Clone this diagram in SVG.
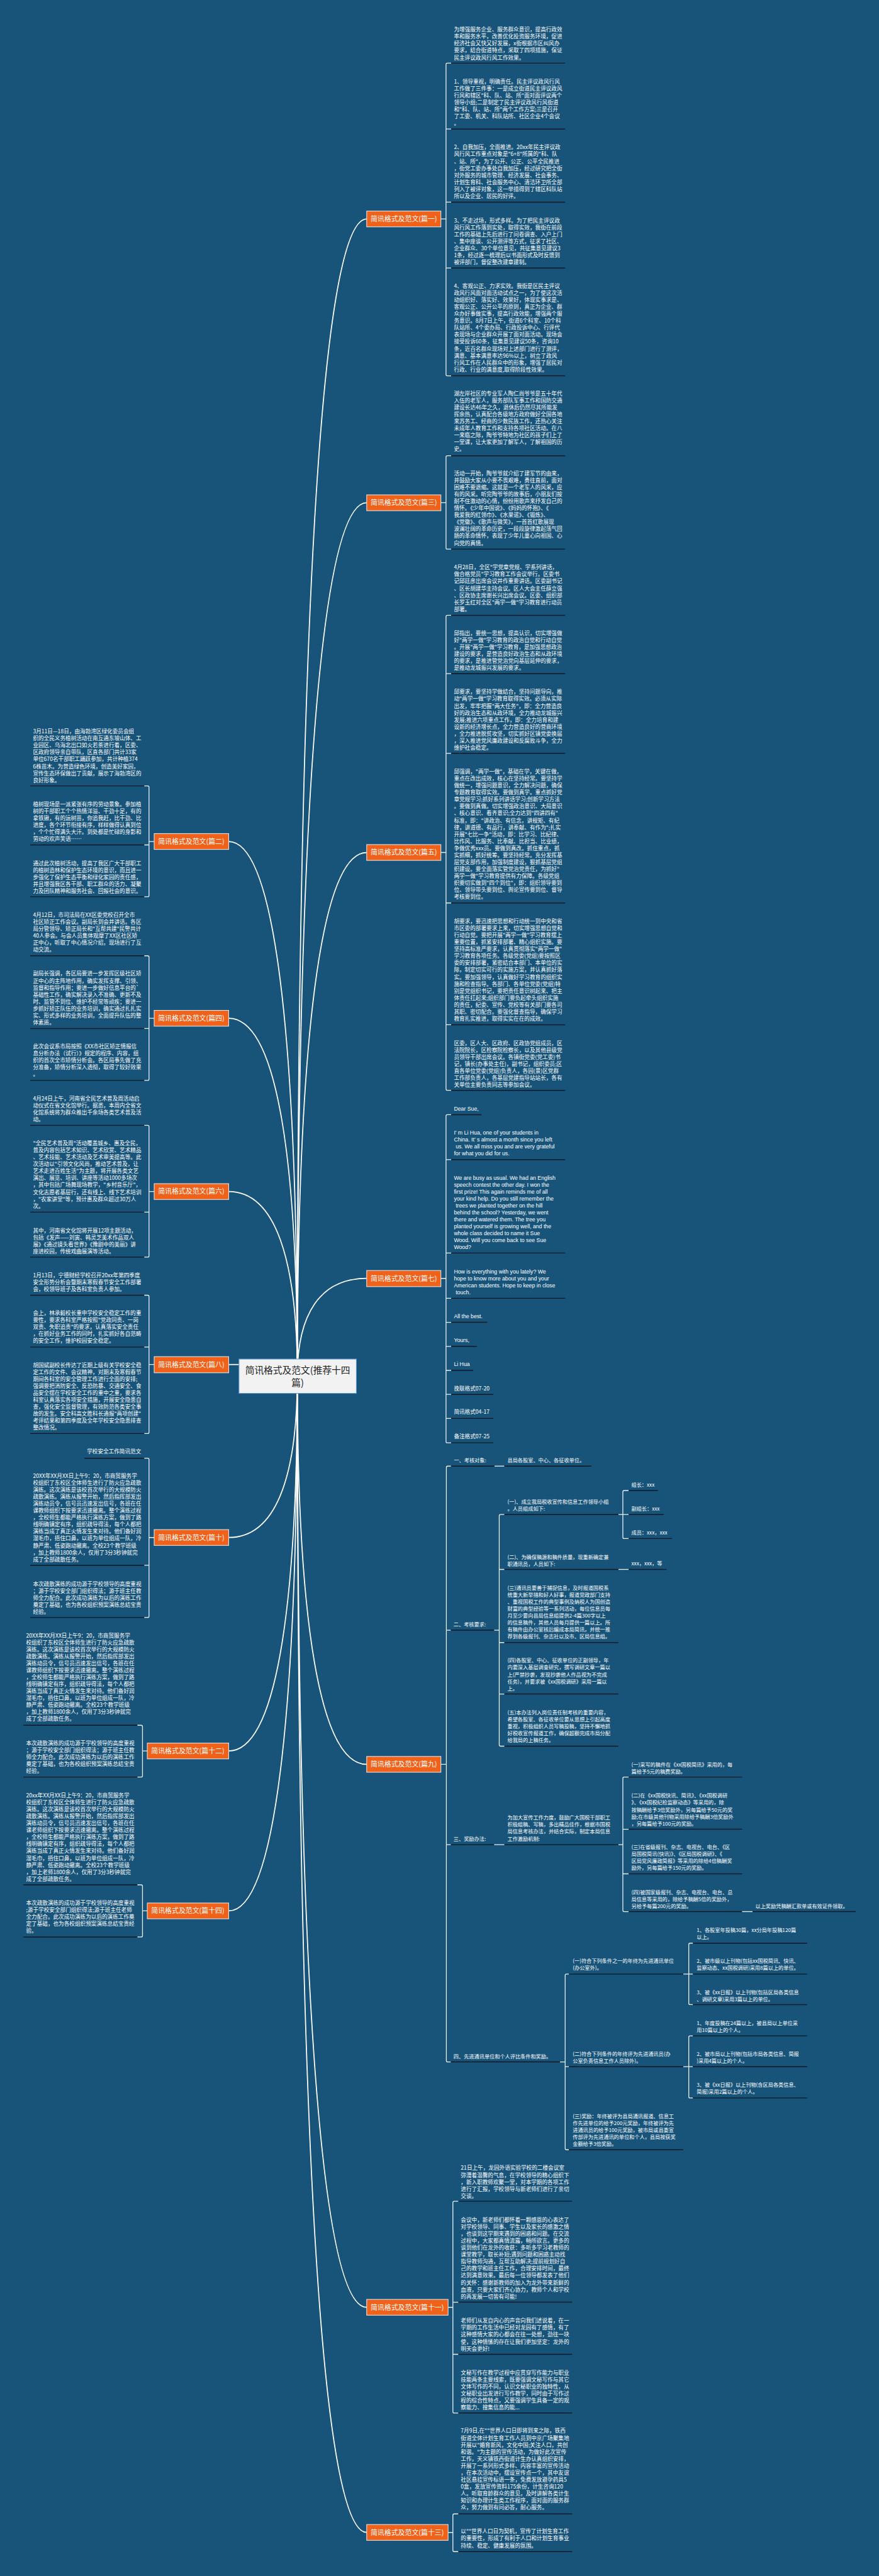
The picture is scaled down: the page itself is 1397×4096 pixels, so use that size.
<svg xmlns="http://www.w3.org/2000/svg" width="1397" height="4096" viewBox="0 0 1397 4096">
<style>
.t{font-family:"Noto Sans CJK SC","Noto Sans",sans-serif;font-size:15.8px;fill:#fff}
.s{font-size:15px}
.e{font-family:"Liberation Sans",Arial,sans-serif;font-size:16px;fill:#fff}
.ul{stroke:#0c1924;stroke-width:2.6;fill:none}
.br{stroke:#e9eef2;stroke-width:2.4;fill:none}
.cn{stroke:#fff;stroke-width:3.2;fill:none}
.lb{fill:#f0611a;stroke:#e4e4e4;stroke-width:2}
.lt{font-family:"Noto Sans CJK SC",sans-serif;font-size:20px;fill:#fff;text-anchor:middle}
.ct{font-family:"Noto Sans CJK SC",sans-serif;font-size:27px;fill:#222;text-anchor:middle}
</style>
<rect width="1397" height="4096" fill="#185479"/>
<g transform="scale(0.5457)">
<g id="connectors">
<path class="cn" d="M1068,638C933,638 866,1852 866,4010"/>
<path class="cn" d="M1068,1465C933,1465 866,2381 866,4010"/>
<path class="cn" d="M1068,2484C933,2484 866,3033 866,4010"/>
<path class="cn" d="M1068,3725C933,3725 866,3828 866,4010"/>
<path class="cn" d="M1068,5141C933,5141 866,4734 866,4010"/>
<path class="cn" d="M1068,6723C933,6723 866,5746 866,4010"/>
<path class="cn" d="M1068,7379C933,7379 866,6166 866,4010"/>
<path class="cn" d="M666,2452C800,2452 866,3013 866,4010"/>
<path class="cn" d="M666,2967C800,2967 866,3342 866,4010"/>
<path class="cn" d="M666,3472C800,3472 866,3666 866,4010"/>
<path class="cn" d="M666,3976H700"/>
<path class="cn" d="M666,4480C800,4480 866,4311 866,4010"/>
<path class="cn" d="M666,5102C800,5102 866,4709 866,4010"/>
<path class="cn" d="M666,5568C800,5568 866,5007 866,4010"/>
<path class="br" d="M1314,184H1303Q1299,184 1299,188V1091Q1299,1095 1303,1095H1314M1299,376H1314M1299,589H1314M1299,781H1314M1284,638H1299"/>
<path class="br" d="M1314,1328H1303Q1299,1328 1299,1332V1596Q1299,1600 1303,1600H1314M1284,1465H1299"/>
<path class="br" d="M1314,1793H1303Q1299,1793 1299,1797V3173Q1299,3177 1303,3177H1314M1299,1963H1314M1299,2195H1314M1299,2631H1314M1299,2986H1314M1284,2484H1299"/>
<path class="br" d="M1314,3248H1303Q1299,3248 1299,3252V4200Q1299,4204 1303,4204H1314M1299,3379H1314M1299,3651H1314M1299,3783H1314M1299,3853H1314M1299,3923H1314M1299,3993H1314M1299,4063H1314M1299,4133H1314M1284,3725H1299"/>
<path class="br" d="M1313,4272H1304Q1300,4272 1300,4276V6004Q1300,6008 1304,6008H1313M1300,4750H1313M1300,5375H1313M1284,5141H1300"/>
<path class="br" d="M1440,4272H1469"/>
<path class="br" d="M1439,4750H1454M1469,4413H1458Q1454,4413 1454,4417V5084Q1454,5088 1458,5088H1469M1454,4573H1469M1454,4786H1469M1454,4936H1469"/>
<path class="br" d="M1801,4413H1814M1831,4343H1818Q1814,4343 1814,4347V4479Q1814,4483 1818,4483H1831M1814,4413H1831"/>
<path class="br" d="M1801,4573H1831"/>
<path class="br" d="M1439,5375H1469M1801,5375H1814M1831,5178H1818Q1814,5178 1814,5182V5566Q1814,5570 1818,5570H1831M1814,5330H1831M1814,5460H1831"/>
<path class="br" d="M2161,5570H2192"/>
<path class="br" d="M1631,6008H1646M1657,5752H1650Q1646,5752 1646,5756V6260Q1646,6264 1650,6264H1657M1646,6022H1657"/>
<path class="br" d="M1990,5752H2006M2018,5662H2010Q2006,5662 2006,5666V5837Q2006,5841 2010,5841H2018M2006,5752H2018"/>
<path class="br" d="M1990,6022H2006M2018,5932H2010Q2006,5932 2006,5936V6109Q2006,6113 2010,6113H2018M2006,6022H2018"/>
<path class="br" d="M1335,6414H1323Q1319,6414 1319,6418V7027Q1319,7031 1323,7031H1335M1319,6708H1335M1319,6860H1335M1305,6723H1319"/>
<path class="br" d="M1335,7325H1323Q1319,7325 1319,7329V7431Q1319,7435 1323,7435H1335M1305,7379H1319"/>
<path class="br" d="M420,2290H430Q434,2290 434,2294V2609Q434,2613 430,2613H420M434,2462H420M449,2452H434"/>
<path class="br" d="M420,2785H430Q434,2785 434,2789V3144Q434,3148 430,3148H420M434,2997H420M449,2967H434"/>
<path class="br" d="M420,3279H430Q434,3279 434,3283V3659Q434,3663 430,3663H420M434,3532H420M449,3472H434"/>
<path class="br" d="M420,3774H430Q434,3774 434,3778V4173Q434,4177 430,4177H420M434,3925H420M449,3976H434"/>
<path class="br" d="M420,4249H430Q434,4249 434,4253V4709Q434,4713 430,4713H420M434,4561H420M449,4480H434"/>
<path class="br" d="M400,5027H411Q415,5027 415,5031V5174Q415,5178 411,5178H400M429,5102H415"/>
<path class="br" d="M400,5492H411Q415,5492 415,5496V5640Q415,5644 411,5644H400M429,5568H415"/>
</g>

<g id="center">
<rect x="696" y="3960" width="342" height="100" fill="#f2f2f2" stroke="#5b93d3" stroke-width="2"/>
<text class="ct" x="867" y="4002">简讯格式及范文(推荐十四</text>
<text class="ct" x="867" y="4038">篇)</text>
</g>

<g id="labels">
<rect class="lb" x="1068" y="3702" width="216" height="47"/><text class="lt" x="1176" y="3732">简讯格式及范文(篇七)</text>
<rect class="lb" x="1068" y="615" width="216" height="46"/><text class="lt" x="1176" y="645">简讯格式及范文(篇一)</text>
<rect class="lb" x="1068" y="1442" width="216" height="46"/><text class="lt" x="1176" y="1472">简讯格式及范文(篇三)</text>
<rect class="lb" x="1068" y="2461" width="216" height="46"/><text class="lt" x="1176" y="2491">简讯格式及范文(篇五)</text>
<rect class="lb" x="1068" y="5118" width="216" height="46"/><text class="lt" x="1176" y="5148">简讯格式及范文(篇九)</text>
<rect class="lb" x="1068" y="6700" width="237" height="46"/><text class="lt" x="1186" y="6730">简讯格式及范文(篇十一)</text>
<rect class="lb" x="1068" y="7356" width="237" height="46"/><text class="lt" x="1186" y="7386">简讯格式及范文(篇十三)</text>
<rect class="lb" x="449" y="2429" width="217" height="46"/><text class="lt" x="557" y="2459">简讯格式及范文(篇二)</text>
<rect class="lb" x="449" y="2944" width="217" height="46"/><text class="lt" x="557" y="2974">简讯格式及范文(篇四)</text>
<rect class="lb" x="449" y="3449" width="217" height="46"/><text class="lt" x="557" y="3479">简讯格式及范文(篇六)</text>
<rect class="lb" x="449" y="3953" width="217" height="47"/><text class="lt" x="557" y="3983">简讯格式及范文(篇八)</text>
<rect class="lb" x="449" y="4457" width="217" height="46"/><text class="lt" x="557" y="4487">简讯格式及范文(篇十)</text>
<rect class="lb" x="429" y="5079" width="237" height="46"/><text class="lt" x="547" y="5109">简讯格式及范文(篇十二)</text>
<rect class="lb" x="429" y="5545" width="237" height="46"/><text class="lt" x="547" y="5575">简讯格式及范文(篇十四)</text>
</g>

<g id="p1">
<text class="t" x="1322" y="92"><tspan x="1322">为增强服务企业、服务群众意识，提高行政效</tspan><tspan x="1322" dy="20.3">率和服务水平，改善优化投资服务环境，促进</tspan><tspan x="1322" dy="20.3">经济社会又快又好发展，x街根据市区纠风办</tspan><tspan x="1322" dy="20.3">要求，结合街道特点，采取了四项措施，保证</tspan><tspan x="1322" dy="20.3">民主评议政风行风工作效果。</tspan></text>
<path class="ul" d="M1314,184H1646"/>
<text class="t" x="1322" y="243"><tspan x="1322">1、领导重视，明确责任。民主评议政风行风</tspan><tspan x="1322" dy="20.3">工作做了三件事：一是成立街道民主评议政风</tspan><tspan x="1322" dy="20.3">行风和辖区"科、队、站、所"面对面评议两个</tspan><tspan x="1322" dy="20.3">领导小组;二是制定了民主评议政风行风街道</tspan><tspan x="1322" dy="20.3">和"科、队、站、所"两个工作方案;三是召开</tspan><tspan x="1322" dy="20.3">了工委、机关、科队站所、社区企业4个会议</tspan><tspan x="1322" dy="20.3">。</tspan></text>
<path class="ul" d="M1314,376H1646"/>
<text class="t" x="1322" y="435"><tspan x="1322">2、自我加压，全面推进。20xx年民主评议政</tspan><tspan x="1322" dy="20.3">风行风工作重点对象是"6+8"所属的"科、队</tspan><tspan x="1322" dy="20.3">、站、所"，为了公开、公正、公平全民推进</tspan><tspan x="1322" dy="20.3">，街党工委办事处自我加压，经过研究把全街</tspan><tspan x="1322" dy="20.3">对外服务的城市管理、经济发展、社会事务、</tspan><tspan x="1322" dy="20.3">计划生育科、社会服务中心、清洁环卫所全部</tspan><tspan x="1322" dy="20.3">列入了被评对象，这一举措得到了辖区科队站</tspan><tspan x="1322" dy="20.3">所以及企业、居民的好评。</tspan></text>
<path class="ul" d="M1314,589H1646"/>
<text class="t" x="1322" y="648"><tspan x="1322">3、不走过场，形式多样。为了把民主评议政</tspan><tspan x="1322" dy="20.3">风行风工作落到实处，取得实效，我街在前段</tspan><tspan x="1322" dy="20.3">工作的基础上先后进行了问卷调查、入户上门</tspan><tspan x="1322" dy="20.3">、集中座谈、公开测评等方式，征求了社区、</tspan><tspan x="1322" dy="20.3">企业群众、30个单位意见，共征集意见建议3</tspan><tspan x="1322" dy="20.3">1条，经过逐一梳理后以书面形式及时反馈到</tspan><tspan x="1322" dy="20.3">被评部门，督促整改建章建制。</tspan></text>
<path class="ul" d="M1314,781H1646"/>
<text class="t" x="1322" y="839"><tspan x="1322">4、客观公正、力求实效。我街是区民主评议</tspan><tspan x="1322" dy="20.3">政风行风面对面活动试点之一，为了使这次活</tspan><tspan x="1322" dy="20.3">动组织好、落实好、效果好，体现实事求是、</tspan><tspan x="1322" dy="20.3">客观公正、公开公平的原则，真正为企业、群</tspan><tspan x="1322" dy="20.3">众办好事做实事，提高行政效能，增强两个服</tspan><tspan x="1322" dy="20.3">务意识。8月7日上午，街道6个科室、10个科</tspan><tspan x="1322" dy="20.3">队站所、4个委办局、行政投诉中心、行评代</tspan><tspan x="1322" dy="20.3">表现场与企业群众开展了面对面活动。现场会</tspan><tspan x="1322" dy="20.3">接受投诉60条，征集意见建议50条，咨询10</tspan><tspan x="1322" dy="20.3">条，近百名群众现场对上述部门进行了测评，</tspan><tspan x="1322" dy="20.3">满意、基本满意率达96%以上，树立了政风</tspan><tspan x="1322" dy="20.3">行风工作在人民群众中的形象，增强了居民对</tspan><tspan x="1322" dy="20.3">行政、行业的满意度,取得阶段性效果。</tspan></text>
<path class="ul" d="M1314,1095H1646"/>
</g>

<g id="p3">
<text class="t" x="1322" y="1152"><tspan x="1322">湖左岸社区的专业军人陶仁尚爷爷是五十年代</tspan><tspan x="1322" dy="20.3">入伍的老军人，服务部队军事工作和国防交通</tspan><tspan x="1322" dy="20.3">建设长达46年之久，退休后仍然尽其所能发</tspan><tspan x="1322" dy="20.3">挥余热，认真配合各级地方政府做好全国各地</tspan><tspan x="1322" dy="20.3">来苏务工、经商的少数民族工作，还热心关注</tspan><tspan x="1322" dy="20.3">未成年人教育工作和支持各项社区活动。在八</tspan><tspan x="1322" dy="20.3">一来临之际，陶爷爷特地为社区的孩子们上了</tspan><tspan x="1322" dy="20.3">一堂课，让大家更加了解军人，了解祖国的历</tspan><tspan x="1322" dy="20.3">史。</tspan></text>
<path class="ul" d="M1314,1328H1646"/>
<text class="t" x="1322" y="1385"><tspan x="1322">活动一开始，陶爷爷就介绍了建军节的由来，</tspan><tspan x="1322" dy="20.3">并鼓励大家从小要不畏艰难，勇往直前，面对</tspan><tspan x="1322" dy="20.3">困难不要退缩。这就是一个老军人的风采，应</tspan><tspan x="1322" dy="20.3">有的风采。听完陶爷爷的故事后，小朋友们按</tspan><tspan x="1322" dy="20.3">耐不住激动的心情，纷纷用歌声来抒发自己的</tspan><tspan x="1322" dy="20.3">情怀。《少年中国说》、《妈妈的怀抱》、《</tspan><tspan x="1322" dy="20.3">我爱我的红领巾》、《水果谣》、《锻炼》、</tspan><tspan x="1322" dy="20.3">《党徽》、《歌声与微笑》，一首首红歌展现</tspan><tspan x="1322" dy="20.3">波澜壮阔的革命历史，一段段旋律激起荡气回</tspan><tspan x="1322" dy="20.3">肠的革命情怀，表现了少年儿童心向祖国、心</tspan><tspan x="1322" dy="20.3">向党的真情。</tspan></text>
<path class="ul" d="M1314,1600H1646"/>
</g>

<g id="p5">
<text class="t" x="1322" y="1659"><tspan x="1322">4月28日，全区"学党章党规、学系列讲话，</tspan><tspan x="1322" dy="20.3">做合格党员"学习教育工作会议举行。区委书</tspan><tspan x="1322" dy="20.3">记邱廷彦出席会议并作重要讲话。区委副书记</tspan><tspan x="1322" dy="20.3">、区长胡建华主持会议。区人大会主任薛立强</tspan><tspan x="1322" dy="20.3">、区政协主席谢长兴出席会议。区委、组织部</tspan><tspan x="1322" dy="20.3">长罗玉红对全区"两学一做"学习教育进行动员</tspan><tspan x="1322" dy="20.3">部署。</tspan></text>
<path class="ul" d="M1314,1793H1646"/>
<text class="t" x="1322" y="1850"><tspan x="1322">邱指出，要统一思想，提高认识，切实增强做</tspan><tspan x="1322" dy="20.3">好"两学一做"学习教育的政治自觉和行动自觉</tspan><tspan x="1322" dy="20.3">。开展"两学一做"学习教育，是加强思想政治</tspan><tspan x="1322" dy="20.3">建设的要求，是营造良好政治生态和从政环境</tspan><tspan x="1322" dy="20.3">的要求，是推进管党治党向基层延伸的要求，</tspan><tspan x="1322" dy="20.3">是推动龙城振兴发展的要求。</tspan></text>
<path class="ul" d="M1314,1963H1646"/>
<text class="t" x="1322" y="2022"><tspan x="1322">邱要求，要坚持学做结合，坚持问题导向，推</tspan><tspan x="1322" dy="20.3">动"两学一做"学习教育取得实效。必须从实际</tspan><tspan x="1322" dy="20.3">出发，牢牢把握"两大任务"，即：全力营造良</tspan><tspan x="1322" dy="20.3">好的政治生态和从政环境，全力推动龙城振兴</tspan><tspan x="1322" dy="20.3">发展;推进六项重点工作，即：全力培育和建</tspan><tspan x="1322" dy="20.3">设新的经济增长点，全力营造良好的营商环境</tspan><tspan x="1322" dy="20.3">，全力推进脱贫攻坚，切实抓好区镇党委换届</tspan><tspan x="1322" dy="20.3">，深入推进党风廉政建设和反腐败斗争，全力</tspan><tspan x="1322" dy="20.3">维护社会稳定。</tspan></text>
<path class="ul" d="M1314,2195H1646"/>
<text class="t" x="1322" y="2254"><tspan x="1322">邱强调，"两学一做"，基础在学，关键在做，</tspan><tspan x="1322" dy="20.3">重点在改出成效，核心在坚持经常。要坚持学</tspan><tspan x="1322" dy="20.3">做统一，增强问题意识，全力解决问题，确保</tspan><tspan x="1322" dy="20.3">专题教育取得实效。要做到真学。重点抓好党</tspan><tspan x="1322" dy="20.3">章党规学习;抓好系列讲话学习;创新学习方法</tspan><tspan x="1322" dy="20.3">。要做到真做。切实增强政治意识、大局意识</tspan><tspan x="1322" dy="20.3">、核心意识、看齐意识;全力达到"四讲四有"</tspan><tspan x="1322" dy="20.3">标准，即："讲政治、有信念，讲规矩、有纪</tspan><tspan x="1322" dy="20.3">律，讲道德、有品行，讲奉献、有作为";扎实</tspan><tspan x="1322" dy="20.3">开展"七比一争"活动，即：比学习、比纪律、</tspan><tspan x="1322" dy="20.3">比作风、比服务、比奉献、比担当、比业绩，</tspan><tspan x="1322" dy="20.3">争做优秀xxx员。要做到真改。抓住重点，抓</tspan><tspan x="1322" dy="20.3">实抓细，抓好统筹。要坚持经常。充分发挥基</tspan><tspan x="1322" dy="20.3">层党支部作用，加强制度建设，狠抓基层党组</tspan><tspan x="1322" dy="20.3">织建设。要全面落实管党治党责任，为抓好"</tspan><tspan x="1322" dy="20.3">两学一做"学习教育提供有力保障。各级党组</tspan><tspan x="1322" dy="20.3">织要切实做到"四个到位"，即：组织领导要到</tspan><tspan x="1322" dy="20.3">位、领导带头要到位、舆论宣传要到位、督导</tspan><tspan x="1322" dy="20.3">考核要到位。</tspan></text>
<path class="ul" d="M1314,2631H1646"/>
<text class="t" x="1322" y="2690"><tspan x="1322">胡要求，要迅速把思想和行动统一到中央和省</tspan><tspan x="1322" dy="20.3">市区委的部署要求上来，切实增强思想自觉和</tspan><tspan x="1322" dy="20.3">行动自觉。要把开展"两学一做"学习教育摆上</tspan><tspan x="1322" dy="20.3">重要位置，抓紧安排部署、精心组织实施。要</tspan><tspan x="1322" dy="20.3">坚持高标准严要求，认真贯彻落实"两学一做"</tspan><tspan x="1322" dy="20.3">学习教育各项任务。各级党委(党组)要按照区</tspan><tspan x="1322" dy="20.3">委的安排部署，紧密结合本部门、本单位的实</tspan><tspan x="1322" dy="20.3">际，制定切实可行的实施方案，并认真抓好落</tspan><tspan x="1322" dy="20.3">实。要加强领导，认真做好学习教育的组织实</tspan><tspan x="1322" dy="20.3">施和检查指导。各部门、各单位党委(党组)特</tspan><tspan x="1322" dy="20.3">别是党组织书记，要把责任意识树起来、把主</tspan><tspan x="1322" dy="20.3">体责任扛起来;组织部门要负起牵头组织实施</tspan><tspan x="1322" dy="20.3">的责任，纪委、宣传、党校等有关部门要各司</tspan><tspan x="1322" dy="20.3">其职、密切配合。要强化督查指导，确保学习</tspan><tspan x="1322" dy="20.3">教育扎实推进，取得实实在在的成效。</tspan></text>
<path class="ul" d="M1314,2986H1646"/>
<text class="t" x="1322" y="3045"><tspan x="1322">区委，区人大、区政府、区政协党组成员，区</tspan><tspan x="1322" dy="20.3">法院院长，区检察院检察长，以及其他县级党</tspan><tspan x="1322" dy="20.3">员领导干部出席会议。各镇街党委(党工委)书</tspan><tspan x="1322" dy="20.3">记，镇长(办事处主任)，副书记，组织委员;区</tspan><tspan x="1322" dy="20.3">直各单位党委(党组)负责人，各园(景)区党群</tspan><tspan x="1322" dy="20.3">工作部负责人，各基层党建指导站站长，各有</tspan><tspan x="1322" dy="20.3">关单位主要负责同志等参加会议。</tspan></text>
<path class="ul" d="M1314,3177H1646"/>
</g>

<g id="p7">
<text class="e" x="1322" y="3236">Dear Sue,</text>
<path class="ul" d="M1314,3248H1402"/>
<text class="e" x="1322" y="3306"><tspan x="1322">I’ m Li Hua, one of your students in</tspan><tspan x="1322" dy="20.3">China. It’ s almost a month since you left</tspan><tspan x="1327" dy="20.3">us. We all miss you and are very grateful</tspan><tspan x="1322" dy="20.3">for what you did for us.</tspan></text>
<path class="ul" d="M1314,3379H1646"/>
<text class="e" x="1322" y="3437"><tspan x="1322">We are busy as usual. We had an English</tspan><tspan x="1322" dy="20.3">speech contest the other day. I won the</tspan><tspan x="1322" dy="20.3">first prize! This again reminds me of all</tspan><tspan x="1322" dy="20.3">your kind help. Do you still remember the</tspan><tspan x="1327" dy="20.3">trees we planted together on the hill</tspan><tspan x="1322" dy="20.3">behind the school? Yesterday, we went</tspan><tspan x="1322" dy="20.3">there and watered them. The tree you</tspan><tspan x="1322" dy="20.3">planted yourself is growing well, and the</tspan><tspan x="1322" dy="20.3">whole class decided to name it Sue</tspan><tspan x="1322" dy="20.3">Wood. Will you come back to see Sue</tspan><tspan x="1322" dy="20.3">Wood?</tspan></text>
<path class="ul" d="M1314,3651H1646"/>
<text class="e" x="1322" y="3710"><tspan x="1322">How is everything with you lately? We</tspan><tspan x="1322" dy="20.3">hope to know more about you and your</tspan><tspan x="1322" dy="20.3">American students. Hope to keep in close</tspan><tspan x="1327" dy="20.3">touch.</tspan></text>
<path class="ul" d="M1314,3783H1646"/>
<text class="e" x="1322" y="3841">All the best.</text>
<path class="ul" d="M1314,3853H1419"/>
<text class="e" x="1322" y="3911">Yours,</text>
<path class="ul" d="M1314,3923H1389"/>
<text class="e" x="1322" y="3981">Li Hua</text>
<path class="ul" d="M1314,3993H1378"/>
<text class="t" x="1322" y="4051">挽联格式07-20</text>
<path class="ul" d="M1314,4063H1437"/>
<text class="t" x="1322" y="4120">简讯格式04-17</text>
<path class="ul" d="M1314,4133H1437"/>
<text class="t" x="1322" y="4191">备注格式07-25</text>
<path class="ul" d="M1314,4204H1437"/>
</g>

<g id="p9">
<text class="t s" x="1322" y="4260">一、考核对象:</text>
<path class="ul" d="M1314,4272H1440"/>
<text class="t s" x="1478" y="4260">县局各股室、中心、各征收单位。</text>
<path class="ul" d="M1469,4272H1722"/>
<text class="t s" x="1321" y="4739">二、考核要求:</text>
<path class="ul" d="M1313,4750H1439"/>
<text class="t s" x="1478" y="4382"><tspan x="1478">(一)、成立我局税收宣传和信息工作领导小组</tspan><tspan x="1478" dy="20.3">。人员组成如下:</tspan></text>
<path class="ul" d="M1469,4413H1801"/>
<text class="t s" x="1839" y="4332">组长：xxx</text>
<path class="ul" d="M1831,4343H1916"/>
<text class="t s" x="1839" y="4402">副组长：xxx</text>
<path class="ul" d="M1831,4413H1933"/>
<text class="t s" x="1839" y="4472">成员：xxx，xxx</text>
<path class="ul" d="M1831,4483H1957"/>
<text class="t s" x="1478" y="4542"><tspan x="1478">(二)、为确保稿源和稿件质量，现重新确定兼</tspan><tspan x="1478" dy="20.3">职通讯员，人员如下:</tspan></text>
<path class="ul" d="M1469,4573H1801"/>
<text class="t s" x="1839" y="4562">xxx，xxx，等</text>
<path class="ul" d="M1831,4573H1941"/>
<text class="t s" x="1478" y="4632"><tspan x="1478">(三)通讯员要善于捕捉信息，及时报道国税系</tspan><tspan x="1478" dy="20.3">统重大新举措和好人好事，报道党政部门支持</tspan><tspan x="1478" dy="20.3">、重视国税工作的典型事例及纳税人为国创造</tspan><tspan x="1478" dy="20.3">财富的典型经验等一系列活动，每位信息员每</tspan><tspan x="1478" dy="20.3">月至少要向县局信息组提供2-4篇300字以上</tspan><tspan x="1478" dy="20.3">的信息稿件，其他人员每月提供一篇以上。所</tspan><tspan x="1478" dy="20.3">有稿件由办公室核后编成本局简讯，并统一推</tspan><tspan x="1478" dy="20.3">荐到各级报刊、杂志社以及市、区局信息组。</tspan></text>
<path class="ul" d="M1469,4786H1801"/>
<text class="t s" x="1478" y="4844"><tspan x="1478">(四)各股室、中心、征收单位的正副领导，年</tspan><tspan x="1478" dy="20.3">内要深入基层调查研究，撰写调研文章一篇以</tspan><tspan x="1478" dy="20.3">上(严禁抄袭，发现抄袭他人作品视为不完成</tspan><tspan x="1478" dy="20.3">任务)，并要求被《xx国税调研》采用一篇以</tspan><tspan x="1478" dy="20.3">上。</tspan></text>
<path class="ul" d="M1469,4936H1801"/>
<text class="t s" x="1478" y="4995"><tspan x="1478">(五)本办法列入岗位责任制考核的重要内容，</tspan><tspan x="1478" dy="20.3">希望各股室、各征收单位要从思想上引起高度</tspan><tspan x="1478" dy="20.3">重视，积极组织人员写稿投稿，坚持不懈地抓</tspan><tspan x="1478" dy="20.3">好税收宣传报道工作，确保超额完成市局分配</tspan><tspan x="1478" dy="20.3">给我局的上稿任务。</tspan></text>
<path class="ul" d="M1469,5088H1801"/>
<text class="t s" x="1321" y="5363">三、奖励办法:</text>
<path class="ul" d="M1313,5375H1439"/>
<text class="t s" x="1478" y="5302"><tspan x="1478">为加大宣传工作力度，鼓励广大国税干部职工</tspan><tspan x="1478" dy="20.3">积极组稿、写稿，多出精品佳作，根据市国税</tspan><tspan x="1478" dy="20.3">局信息考核办法，并结合实际，制定本局信息</tspan><tspan x="1478" dy="20.3">工作激励机制:</tspan></text>
<path class="ul" d="M1469,5375H1801"/>
<text class="t s" x="1839" y="5147"><tspan x="1839">(一)采写的稿件在《xx国税简讯》采用的，每</tspan><tspan x="1839" dy="20.3">篇给予5元的稿费奖励。</tspan></text>
<path class="ul" d="M1831,5178H2161"/>
<text class="t s" x="1839" y="5238"><tspan x="1839">(二)在《xx国税快讯、简讯》、《xx国税调研</tspan><tspan x="1839" dy="20.3">》、《xx国税纪检监察动态》等采用的，除</tspan><tspan x="1839" dy="20.3">按稿酬给予3倍奖励外，另每篇给予50元的奖</tspan><tspan x="1839" dy="20.3">励;在市级其他刊物采用除给予稿酬3倍奖励外</tspan><tspan x="1839" dy="20.3">，另每篇给予100元的奖励。</tspan></text>
<path class="ul" d="M1831,5330H2161"/>
<text class="t s" x="1839" y="5388"><tspan x="1839">(三)在省级报刊、杂志、电视台、电台、《区</tspan><tspan x="1839" dy="20.3">局国税简讯(快讯)》、《区局国税调研》、《</tspan><tspan x="1839" dy="20.3">区局党风廉政简报》等采用的除给4倍稿酬奖</tspan><tspan x="1839" dy="20.3">励外，另每篇给予150元的奖励。</tspan></text>
<path class="ul" d="M1831,5460H2161"/>
<text class="t s" x="1839" y="5519"><tspan x="1839">(四)被国家级报刊、杂志、电视台、电台、总</tspan><tspan x="1839" dy="20.3">局信息等采用的，除给予稿酬5倍的奖励外，</tspan><tspan x="1839" dy="20.3">另给予每篇200元的奖励。</tspan></text>
<path class="ul" d="M1831,5570H2161"/>
<text class="t s" x="2200" y="5560">以上奖励凭稿酬汇款单或有效证件领取。</text>
<path class="ul" d="M2192,5570H2492"/>
<text class="t s" x="1321" y="5997">四、先进通讯单位和个人评比条件和奖励。</text>
<path class="ul" d="M1313,6008H1631"/>
<text class="t s" x="1668" y="5720"><tspan x="1668">(一)符合下列条件之一的年终为先进通讯单位</tspan><tspan x="1668" dy="20.3">(办公室外)。</tspan></text>
<path class="ul" d="M1657,5752H1990"/>
<text class="t s" x="2029" y="5630"><tspan x="2029">1、各股室年投稿30篇，xx分局年投稿120篇</tspan><tspan x="2029" dy="20.3">以上。</tspan></text>
<path class="ul" d="M2018,5662H2351"/>
<text class="t s" x="2029" y="5720"><tspan x="2029">2、被市级以上刊物(包括xx国税简讯、快讯、</tspan><tspan x="2029" dy="20.3">监察动态、xx国税调研)采用8篇以上的单位。</tspan></text>
<path class="ul" d="M2018,5752H2351"/>
<text class="t s" x="2029" y="5810"><tspan x="2029">3、被《xx日报》以上刊物(包括区局各类信息</tspan><tspan x="2029" dy="20.3">、调研文章)采用3篇以上的单位。</tspan></text>
<path class="ul" d="M2018,5841H2351"/>
<text class="t s" x="1668" y="5991"><tspan x="1668">(二)符合下列条件的年终评为先进通讯员(办</tspan><tspan x="1668" dy="20.3">公室负责信息工作人员除外)。</tspan></text>
<path class="ul" d="M1657,6022H1990"/>
<text class="t s" x="2029" y="5900"><tspan x="2029">1、年度投稿在24篇以上，被县局以上单位采</tspan><tspan x="2029" dy="20.3">用10篇以上的个人。</tspan></text>
<path class="ul" d="M2018,5932H2351"/>
<text class="t s" x="2029" y="5991"><tspan x="2029">2、被市局以上刊物(包括市局各类信息、简报</tspan><tspan x="2029" dy="20.3">)采用4篇以上的个人。</tspan></text>
<path class="ul" d="M2018,6022H2351"/>
<text class="t s" x="2029" y="6081"><tspan x="2029">3、被《xx日报》以上刊物(含区局各类信息、</tspan><tspan x="2029" dy="20.3">简报)采用2篇以上的个人。</tspan></text>
<path class="ul" d="M2018,6113H2351"/>
<text class="t s" x="1668" y="6172"><tspan x="1668">(三)奖励：年终被评为县局通讯报道、信息工</tspan><tspan x="1668" dy="20.3">作先进单位的给予200元奖励，年终被评为先</tspan><tspan x="1668" dy="20.3">进通讯员的给予100元奖励，被市局或县委宣</tspan><tspan x="1668" dy="20.3">传部评为先进通讯的单位和个人，县局按获奖</tspan><tspan x="1668" dy="20.3">金额给予3倍奖励。</tspan></text>
<path class="ul" d="M1657,6264H1990"/>
</g>

<g id="p11">
<text class="t" x="1342" y="6323"><tspan x="1342">21日上午，龙园外语实验学校的二楼会议室</tspan><tspan x="1342" dy="20.3">弥漫着温馨的气息，在学校领导的精心组织下</tspan><tspan x="1342" dy="20.3">，新入职教师欢聚一堂，对本学期的各项工作</tspan><tspan x="1342" dy="20.3">进行了汇报，学校领导与新老师们进行了亲切</tspan><tspan x="1342" dy="20.3">交谈。</tspan></text>
<path class="ul" d="M1335,6414H1666"/>
<text class="t" x="1342" y="6474"><tspan x="1342">会议中，新老师们都怀着一颗感恩的心表达了</tspan><tspan x="1342" dy="20.3">对学校领导、同事、学生以及家长的感激之情</tspan><tspan x="1342" dy="20.3">，也谈到这学期来遇到的困惑和问题。在交流</tspan><tspan x="1342" dy="20.3">过程中，大家都真情流露，畅所欲言。更多的</tspan><tspan x="1342" dy="20.3">谈到他们在龙外的收获：多听多学习老教师的</tspan><tspan x="1342" dy="20.3">课堂教学，取长补短;遇到问题和困惑主动找</tspan><tspan x="1342" dy="20.3">指导教师沟通，互帮互助解决;提前规划好自</tspan><tspan x="1342" dy="20.3">己的教学和班主任工作，合理安排时间，最终</tspan><tspan x="1342" dy="20.3">达到满意效果。最后每一位领导都发表了他们</tspan><tspan x="1342" dy="20.3">的关怀：感谢新教师的加入为龙外带来新鲜的</tspan><tspan x="1342" dy="20.3">血液，只要大家们齐心协力，教师个人和学校</tspan><tspan x="1342" dy="20.3">的再发展一切皆有可能!</tspan></text>
<path class="ul" d="M1335,6708H1666"/>
<text class="t" x="1342" y="6768"><tspan x="1342">老师们从发自内心的声音向我们述说着，在一</tspan><tspan x="1342" dy="20.3">学期的工作生活中已经对龙园有了感情，有了</tspan><tspan x="1342" dy="20.3">这种感情大家的心都会在往一处想，劲往一块</tspan><tspan x="1342" dy="20.3">使，这种情愫的存在让我们更加坚定：龙外的</tspan><tspan x="1342" dy="20.3">明天会更好!</tspan></text>
<path class="ul" d="M1335,6860H1666"/>
<text class="t" x="1342" y="6919"><tspan x="1342">文秘写作在教学过程中应贯穿写作能力与职业</tspan><tspan x="1342" dy="20.3">技能两条主要线索，既要强调文秘写作与其它</tspan><tspan x="1342" dy="20.3">文体写作的不同，认识文秘职业的独特性，从</tspan><tspan x="1342" dy="20.3">文秘职业出发进行写作教学，同时由于写作过</tspan><tspan x="1342" dy="20.3">程的综合性特点，又要强调学生具备一定的观</tspan><tspan x="1342" dy="20.3">察能力、搜集信息的能...</tspan></text>
<path class="ul" d="M1335,7031H1666"/>
</g>

<g id="p13">
<text class="t" x="1342" y="7089"><tspan x="1342">7月9日,在""世界人口日即将到来之际，铁西</tspan><tspan x="1342" dy="20.3">街道全体计划生育工作人员到中京广场聚集地</tspan><tspan x="1342" dy="20.3">开展以"婚育新风，文化中国;关注人口，共创</tspan><tspan x="1342" dy="20.3">和谐。"为主题的宣传活动，为做好此次宣传</tspan><tspan x="1342" dy="20.3">工作，天义镇铁西街道计生办认真组织安排，</tspan><tspan x="1342" dy="20.3">开展了一系列形式多样、内容丰富的宣传活动</tspan><tspan x="1342" dy="20.3">，在本次活动中，摆设宣传点一个，其中友谊</tspan><tspan x="1342" dy="20.3">社区悬挂宣传标语一条，免费发放避孕药具5</tspan><tspan x="1342" dy="20.3">0盒，发放宣传资料175余份，计生咨询120</tspan><tspan x="1342" dy="20.3">人。听取育龄群众的意见，及时讲解各类计生</tspan><tspan x="1342" dy="20.3">知识和办理计生类工作程序，面对面的服务群</tspan><tspan x="1342" dy="20.3">众，努力做到有问必答，耐心服务。</tspan></text>
<path class="ul" d="M1335,7325H1666"/>
<text class="t" x="1342" y="7382"><tspan x="1342">以""世界人口日为契机，宣传了计划生育工作</tspan><tspan x="1342" dy="20.3">的重要性，形成了有利于人口和计划生育事业</tspan><tspan x="1342" dy="20.3">持续、稳定、健康发展的氛围。</tspan></text>
<path class="ul" d="M1335,7435H1666"/>
</g>

<g id="p2">
<text class="t" x="96" y="2137"><tspan x="96">3月11日—18日，由海勃湾区绿化委员会组</tspan><tspan x="96" dy="20.3">织的全民义务植树活动在南互通东坡山体、工</tspan><tspan x="96" dy="20.3">业园区、乌海北出口如火若荼进行着，区委、</tspan><tspan x="96" dy="20.3">区政府领导亲自带队，区直各部门共计33家</tspan><tspan x="96" dy="20.3">单位670名干部职工踊跃参加，共计种植374</tspan><tspan x="96" dy="20.3">6株苗木。为营造绿色环境，创造美好家园，</tspan><tspan x="96" dy="20.3">宣传生态环保做出了贡献，展示了海勃湾区的</tspan><tspan x="96" dy="20.3">良好形象。</tspan></text>
<path class="ul" d="M88,2290H420"/>
<text class="t" x="96" y="2349"><tspan x="96">植树现场是一派紧张有序的劳动景象。参加植</tspan><tspan x="96" dy="20.3">树的干部职工个个热情洋溢、干劲十足，有的</tspan><tspan x="96" dy="20.3">拿铁锹，有的运树苗，你追我赶，比干劲、比</tspan><tspan x="96" dy="20.3">进度，各个环节衔接有序，样样做得认真到位</tspan><tspan x="96" dy="20.3">，个个忙得满头大汗。到处都是忙碌的身影和</tspan><tspan x="96" dy="20.3">劳动的欢声笑语……</tspan></text>
<path class="ul" d="M88,2462H420"/>
<text class="t" x="96" y="2521"><tspan x="96">通过此次植树活动，提高了我区广大干部职工</tspan><tspan x="96" dy="20.3">的植树造林和保护生态环境的意识，而且进一</tspan><tspan x="96" dy="20.3">步强化了保护生态平衡和绿化家园的责任感，</tspan><tspan x="96" dy="20.3">并且增强我区各干部、职工群众的活力、凝聚</tspan><tspan x="96" dy="20.3">力及团队精神和服务社会、回报社会的意识。</tspan></text>
<path class="ul" d="M88,2613H420"/>
</g>

<g id="p4">
<text class="t" x="96" y="2672"><tspan x="96">4月12日，市司法局在XX区委党校召开全市</tspan><tspan x="96" dy="20.3">社区矫正工作会议。副局长到会并讲话。各区</tspan><tspan x="96" dy="20.3">局分管领导、矫正局长和"互帮共建"民警共计</tspan><tspan x="96" dy="20.3">40人参会。与会人员集体观摩了XX区社区矫</tspan><tspan x="96" dy="20.3">正中心，听取了中心情况介绍，现场进行了互</tspan><tspan x="96" dy="20.3">动交流。</tspan></text>
<path class="ul" d="M88,2785H420"/>
<text class="t" x="96" y="2843"><tspan x="96">副局长强调，各区局要进一步发挥区级社区矫</tspan><tspan x="96" dy="20.3">正中心的主阵地作用，确实发挥支撑、引领、</tspan><tspan x="96" dy="20.3">监督和指导作用；要进一步做好信息平台的`</tspan><tspan x="96" dy="20.3">基础性工作，确实解决录入不准确、更新不及</tspan><tspan x="96" dy="20.3">时、监管不到位、维护不经常等顽疾；要进一</tspan><tspan x="96" dy="20.3">步抓好矫正队伍的业务培训，确实通过扎扎实</tspan><tspan x="96" dy="20.3">实、形式多样的业务培训，全面提升队伍的整</tspan><tspan x="96" dy="20.3">体素质。</tspan></text>
<path class="ul" d="M88,2997H420"/>
<text class="t" x="96" y="3055"><tspan x="96">此次会议系市局按照《XX市社区矫正情报信</tspan><tspan x="96" dy="20.3">息分析办法（试行）》规定的程序、内容，组</tspan><tspan x="96" dy="20.3">织的首次全市矫情分析会。各区局事先做了充</tspan><tspan x="96" dy="20.3">分准备，矫情分析深入透彻，取得了较好效果</tspan><tspan x="96" dy="20.3">。</tspan></text>
<path class="ul" d="M88,3148H420"/>
</g>

<g id="p6">
<text class="t" x="96" y="3207"><tspan x="96">4月24日上午，河南省全民艺术普及周活动启</tspan><tspan x="96" dy="20.3">动仪式在省文化馆举行。据悉，本周内全省文</tspan><tspan x="96" dy="20.3">化馆系统将为群众推出千余场各类艺术普及活</tspan><tspan x="96" dy="20.3">动。</tspan></text>
<path class="ul" d="M88,3279H420"/>
<text class="t" x="96" y="3337"><tspan x="96">"全民艺术普及周"活动覆盖城乡、惠及全民，</tspan><tspan x="96" dy="20.3">普及内容包括艺术知识、艺术欣赏、艺术精品</tspan><tspan x="96" dy="20.3">、艺术技能、艺术活动及艺术审美提高等。此</tspan><tspan x="96" dy="20.3">次活动以"引领文化风尚，推动艺术普及，让</tspan><tspan x="96" dy="20.3">艺术走进百姓生活"为主题，将开展各类文艺</tspan><tspan x="96" dy="20.3">演出、展览、培训、讲座等活动1000多场次</tspan><tspan x="96" dy="20.3">，其中包括广场舞现场教学，"乡村音乐厅"，</tspan><tspan x="96" dy="20.3">文化志愿者基层行，还有线上、线下艺术培训</tspan><tspan x="96" dy="20.3">，"农家讲堂"等，预计惠及群众超过30万人</tspan><tspan x="96" dy="20.3">次。</tspan></text>
<path class="ul" d="M88,3532H420"/>
<text class="t" x="96" y="3591"><tspan x="96">其中，河南省文化馆将开展12项主题活动，</tspan><tspan x="96" dy="20.3">包括《发声——刘寅、韩灵芝美术作品双人</tspan><tspan x="96" dy="20.3">展》《通过镜头看世界》《豫剧中的美丽》讲</tspan><tspan x="96" dy="20.3">座进校园，传统戏曲展演等活动。</tspan></text>
<path class="ul" d="M88,3663H420"/>
</g>

<g id="p8">
<text class="t" x="96" y="3721"><tspan x="96">1月13日，宁德财经学校召开20xx年第四季度</tspan><tspan x="96" dy="20.3">安全形势分析会暨期末寒假春节安全工作部署</tspan><tspan x="96" dy="20.3">会，校领导班子及各科室负责人参加。</tspan></text>
<path class="ul" d="M88,3774H420"/>
<text class="t" x="96" y="3832"><tspan x="96">会上，林承毅校长重申学校安全稳定工作的重</tspan><tspan x="96" dy="20.3">要性，要求各科室严格按照"党政同责、一岗</tspan><tspan x="96" dy="20.3">双责、失职追责"的要求，认真落实安全责任</tspan><tspan x="96" dy="20.3">，在抓好业务工作的同时，扎实抓好各自范畴</tspan><tspan x="96" dy="20.3">的安全工作，维护校园安全稳定。</tspan></text>
<path class="ul" d="M88,3925H420"/>
<text class="t" x="96" y="3983"><tspan x="96">胡国斌副校长传达了近期上级有关学校安全稳</tspan><tspan x="96" dy="20.3">定工作的文件、会议精神，对期末及寒假春节</tspan><tspan x="96" dy="20.3">期间各科室的安全管理工作进行全面的安排;</tspan><tspan x="96" dy="20.3">强调要把消防安全、反恐防暴、交通安全、食</tspan><tspan x="96" dy="20.3">品安全摆在学校安全工作的重中之重，要求各</tspan><tspan x="96" dy="20.3">科室认真落实各项安全措施，开展安全隐患自</tspan><tspan x="96" dy="20.3">查，强化安全监督管理，有效防范各类安全事</tspan><tspan x="96" dy="20.3">故的发生。安全科高文胜科长通报"两项创建"</tspan><tspan x="96" dy="20.3">考评结果和第四季度及全年学校安全隐患排查</tspan><tspan x="96" dy="20.3">整改情况。</tspan></text>
<path class="ul" d="M88,4177H420"/>
</g>

<g id="p10">
<text class="t" x="411" y="4235" text-anchor="end">学校安全工作简讯范文</text>
<path class="ul" d="M246,4249H420"/>
<text class="t" x="96" y="4306"><tspan x="96">20XX年XX月XX日上午9：20，市商贸服务学</tspan><tspan x="96" dy="20.3">校组织了东校区全体师生进行了防火应急疏散</tspan><tspan x="96" dy="20.3">演练。这次演练是该校首次举行的大规模防火</tspan><tspan x="96" dy="20.3">疏散演练。演练从报警开始，然后指挥部发出</tspan><tspan x="96" dy="20.3">演练动员令，信号员迅速发出信号，各班在任</tspan><tspan x="96" dy="20.3">课教师组织下按要求迅速撤离。整个演练过程</tspan><tspan x="96" dy="20.3">，全校师生都能严格执行演练方案，做到了路</tspan><tspan x="96" dy="20.3">线明确镇定有序，组织疏导得法，每个人都把</tspan><tspan x="96" dy="20.3">演练当成了真正火情发生来对待。他们备好润</tspan><tspan x="96" dy="20.3">湿毛巾，捂住口鼻，以班为单位组成一队，冷</tspan><tspan x="96" dy="20.3">静严肃、低姿跑动撤离。全校23个教学班级</tspan><tspan x="96" dy="20.3">，加上教师1800余人，仅用了3分3秒钟就完</tspan><tspan x="96" dy="20.3">成了全部疏散任务。</tspan></text>
<path class="ul" d="M88,4561H420"/>
<text class="t" x="96" y="4621"><tspan x="96">本次疏散演练的成功源于学校领导的高度重视</tspan><tspan x="96" dy="20.3">；源于学校安全部门组织得法；源于班主任教</tspan><tspan x="96" dy="20.3">师全力配合。此次成功演练为以后的演练工作</tspan><tspan x="96" dy="20.3">奠定了基础，也为各校组织预案演练总结宝贵</tspan><tspan x="96" dy="20.3">经验。</tspan></text>
<path class="ul" d="M88,4713H420"/>
</g>

<g id="p12">
<text class="t" x="76" y="4771"><tspan x="76">20XX年XX月XX日上午9：20，市商贸服务学</tspan><tspan x="76" dy="20.3">校组织了东校区全体师生进行了防火应急疏散</tspan><tspan x="76" dy="20.3">演练。这次演练是该校首次举行的大规模防火</tspan><tspan x="76" dy="20.3">疏散演练。演练从报警开始，然后指挥部发出</tspan><tspan x="76" dy="20.3">演练动员令，信号员迅速发出信号，各班在任</tspan><tspan x="76" dy="20.3">课教师组织下按要求迅速撤离。整个演练过程</tspan><tspan x="76" dy="20.3">，全校师生都能严格执行演练方案，做到了路</tspan><tspan x="76" dy="20.3">线明确镇定有序，组织疏导得法，每个人都把</tspan><tspan x="76" dy="20.3">演练当成了真正火情发生来对待。他们备好润</tspan><tspan x="76" dy="20.3">湿毛巾，捂住口鼻，以班为单位组成一队，冷</tspan><tspan x="76" dy="20.3">静严肃、低姿跑动撤离。全校23个教学班级</tspan><tspan x="76" dy="20.3">，加上教师1800余人，仅用了3分3秒钟就完</tspan><tspan x="76" dy="20.3">成了全部疏散任务。</tspan></text>
<path class="ul" d="M68,5027H400"/>
<text class="t" x="76" y="5085"><tspan x="76">本次疏散演练的成功源于学校领导的高度重视</tspan><tspan x="76" dy="20.3">；源于学校安全部门组织得法；源于班主任教</tspan><tspan x="76" dy="20.3">师全力配合。此次成功演练为以后的演练工作</tspan><tspan x="76" dy="20.3">奠定了基础，也为各校组织预案演练总结宝贵</tspan><tspan x="76" dy="20.3">经验。</tspan></text>
<path class="ul" d="M68,5178H400"/>
</g>

<g id="p14">
<text class="t" x="76" y="5237"><tspan x="76">20xx年XX月XX日上午9：20，市商贸服务学</tspan><tspan x="76" dy="20.3">校组织了东校区全体师生进行了防火应急疏散</tspan><tspan x="76" dy="20.3">演练。这次演练是该校首次举行的大规模防火</tspan><tspan x="76" dy="20.3">疏散演练。演练从报警开始，然后指挥部发出</tspan><tspan x="76" dy="20.3">演练动员令，信号员迅速发出信号，各班在任</tspan><tspan x="76" dy="20.3">课老师组织下按要求迅速撤离。整个演练过程</tspan><tspan x="76" dy="20.3">，全校师生都能严格执行演练方案，做到了路</tspan><tspan x="76" dy="20.3">线明确镇定有序，组织疏导得法，每个人都把</tspan><tspan x="76" dy="20.3">演练当成了真正火情发生来对待。他们备好润</tspan><tspan x="76" dy="20.3">湿毛巾，捂住口鼻，以班为单位组成一队，冷</tspan><tspan x="76" dy="20.3">静严肃、低姿跑动撤离。全校23个教学班级</tspan><tspan x="76" dy="20.3">，加上老师1800余人，仅用了3分3秒钟就完</tspan><tspan x="76" dy="20.3">成了全部疏散任务。</tspan></text>
<path class="ul" d="M68,5492H400"/>
<text class="t" x="76" y="5550"><tspan x="76">本次疏散演练的成功源于学校领导的高度重视</tspan><tspan x="76" dy="20.3">;源于学校安全部门组织得法;源于班主任老师</tspan><tspan x="76" dy="20.3">全力配合。此次成功演练为以后的演练工作奠</tspan><tspan x="76" dy="20.3">定了基础，也为各校组织预案演练总结宝贵经</tspan><tspan x="76" dy="20.3">验。</tspan></text>
<path class="ul" d="M68,5644H400"/>
</g>
</g>
</svg>
